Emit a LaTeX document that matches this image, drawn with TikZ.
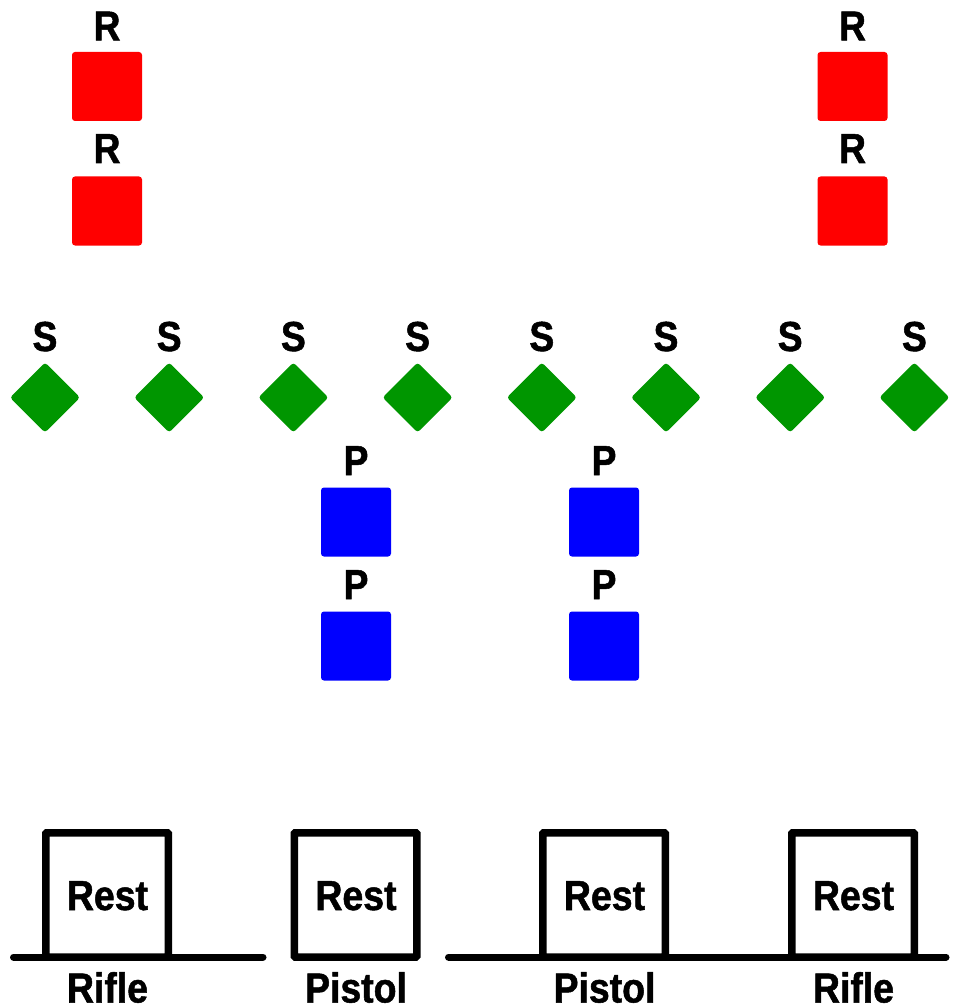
\documentclass[tikz,border=0pt]{standalone}
\usepackage{fontspec}
\newfontfamily\labfont[FakeStretch=0.89,FakeBold=1.2]{Liberation Sans}
\usetikzlibrary{shapes.geometric}
\definecolor{redsq}{RGB}{255,0,0}
\definecolor{bluesq}{RGB}{0,0,255}
\definecolor{greensq}{RGB}{0,150,0}
\begin{document}
\begin{tikzpicture}[x=1pt,y=-1pt,
  rsq/.style={fill=redsq,draw=none,rounded corners=3pt,minimum width=70pt,minimum height=69pt,inner sep=0pt},
  bsq/.style={fill=bluesq,draw=none,rounded corners=3pt,minimum width=70pt,minimum height=69pt,inner sep=0pt},
  gdia/.style={fill=greensq,draw=none,rounded corners=3pt,minimum width=49.5pt,minimum height=49.5pt,inner sep=0pt,rotate=45},
  lbl/.style={font=\labfont\bfseries\fontsize{42}{42}\selectfont,inner sep=0pt,anchor=base},
  restbox/.style={draw=black,line width=7.5pt,rounded corners=1pt,minimum width=122.5pt,minimum height=124.25pt,inner sep=0pt},
  ground/.style={draw=black,line width=7pt,line cap=round}
]
\useasboundingbox (0,0) rectangle (953,1008);
% red squares
\node[rsq] (r1) at (107,86.5) {};
\node[rsq] (r2) at (107,211) {};
\node[rsq] (r3) at (852.5,86.5) {};
\node[rsq] (r4) at (852.5,211) {};
\node[lbl] (lr1) at (107,40.5) {R};
\node[lbl] (lr2) at (107,163) {R};
\node[lbl] (lr3) at (852.5,40.5) {R};
\node[lbl] (lr4) at (852.5,163) {R};
% green diamonds
\foreach \i in {0,...,7}{
  \node[gdia] (g\i) at ({45+124.2*\i},397.5) {};
  \node[lbl] (lg\i) at ({45+124.2*\i},351) {S};
}
% blue squares
\node[bsq] (b1) at (356,522) {};
\node[bsq] (b2) at (356,646) {};
\node[bsq] (b3) at (604,522) {};
\node[bsq] (b4) at (604,646) {};
\node[lbl] (lb1) at (356,475) {P};
\node[lbl] (lb2) at (356,599) {P};
\node[lbl] (lb3) at (604,475) {P};
\node[lbl] (lb4) at (604,599) {P};
% ground lines
\coordinate (gl1) at (13.5,957);
\coordinate (gr1) at (263,957);
\coordinate (gl2) at (448.5,957);
\coordinate (gr2) at (946,957);
\draw[ground] (gl1) -- (gr1);
\draw[ground] (gl2) -- (gr2);
% rest boxes
\node[restbox] (rb1) at (107,894.9) {};
\node[restbox] (rb2) at (355.5,894.9) {};
\node[restbox] (rb3) at (604,894.9) {};
\node[restbox] (rb4) at (853,894.9) {};
\node[lbl] (rt1) at (107.5,910) {Rest};
\node[lbl] (rt2) at (356,910) {Rest};
\node[lbl] (rt3) at (604.5,910) {Rest};
\node[lbl] (rt4) at (853.5,910) {Rest};
\node[lbl] (w1) at (107.5,1002.5) {Rifle};
\node[lbl] (w2) at (356,1002.5) {Pistol};
\node[lbl] (w3) at (604.5,1002.5) {Pistol};
\node[lbl] (w4) at (853.5,1002.5) {Rifle};
\end{tikzpicture}
\end{document}
